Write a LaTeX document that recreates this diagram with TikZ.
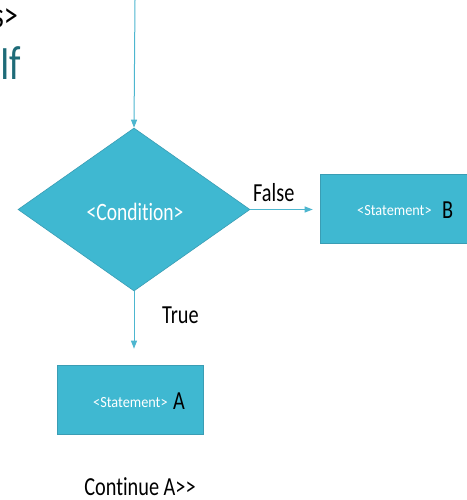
\documentclass[tikz,border=0pt]{standalone}
\usepackage{fontspec}
\setmainfont{Carlito}[FakeStretch=0.78, Ligatures=NoCommon]
\newfontfamily\plainfont{Carlito}[FakeStretch=0.92, Ligatures=NoCommon]
\usetikzlibrary{shapes.geometric,arrows.meta}
\definecolor{fillc}{HTML}{3FB8D1}
\definecolor{edgec}{HTML}{3A9DB4}
\definecolor{linec}{HTML}{4DB6CF}
\definecolor{titlec}{HTML}{1E6B78}
\tikzset{
  flow/.style={draw=linec, line width=1pt, -{Triangle[length=8pt,width=6pt]}},
  shapebox/.style={draw=edgec, fill=fillc, line width=0.6pt, inner sep=0pt},
  wtext/.style={text=white, font=\plainfont\fontsize{15.5}{15.5}\selectfont, inner sep=0pt, anchor=base west},
  btext/.style={text=black, font=\fontsize{26}{26}\selectfont, inner sep=0pt},
}
\begin{document}
\begin{tikzpicture}[x=1pt,y=-1pt]
\useasboundingbox (0,0) rectangle (466,500);
\node[text=black, font=\fontsize{36}{36}\selectfont, inner sep=0pt, anchor=base east] (t1) at (18,28) {s>};
\node[text=titlec, font=\fontsize{48}{48}\selectfont, inner sep=0pt, anchor=base west] (t2) at (0,80) {If};
\coordinate (start) at (135,0);
\node[shapebox, diamond, minimum width=232pt, minimum height=163pt] (cond) at (134,209.5) {};
\node[text=white, font=\fontsize{25}{25}\selectfont, inner sep=0pt] (condt) at (135,212) {<Condition>};
\node[shapebox, minimum width=150pt, minimum height=69pt] (boxB) at (395,208.5) {};
\node[shapebox, minimum width=146pt, minimum height=69pt] (boxA) at (130,399.5) {};
\node[wtext] (sB) at (357,215) {<Statement>};
\node[btext, anchor=base west] (lB) at (442,218) {B};
\node[wtext] (sA) at (93,407) {<Statement>};
\node[btext, anchor=base west] (lA) at (173,409) {A};
\draw[flow] (start) -- (cond.north);
\draw[flow, shorten >=7pt] (cond.east) -- (cond.east -| boxB.west);
\draw[flow, shorten >=16pt] (cond.south) -- (cond.south |- boxA.north);
\node[btext, anchor=base west] (fl) at (253,201) {False};
\node[btext, anchor=base west] (tr) at (162,323) {True};
\node[btext, anchor=base] (cont) at (140,495) {Continue A>{}>};
\end{tikzpicture}
\end{document}
